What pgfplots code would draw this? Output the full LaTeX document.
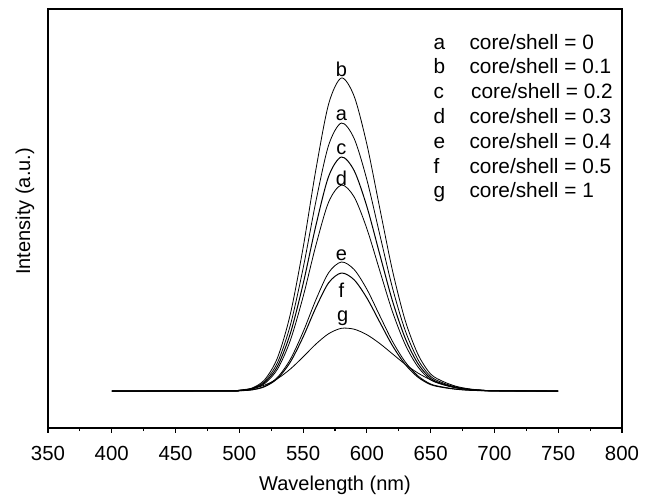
\documentclass[border=0pt]{standalone}
\usepackage{pgfplots}
\pgfplotsset{compat=1.18}
\usepackage{fontspec}
\setmainfont{Liberation Sans}
\begin{document}
\fontsize{10}{12.4}\selectfont
\begin{tikzpicture}
\begin{axis}[
  scale only axis,
  width=287pt, height=209.5pt,
  xmin=350, xmax=800, ymin=-37, ymax=382,
  xtick={350,400,...,800},
  minor x tick num=1,
  ytick=\empty,
  xtick pos=bottom,
  tick align=outside,
  major tick length=2.4pt,
  minor tick length=1.6pt,
  axis line style={line width=0.7pt},
  every tick/.style={black, line width=0.6pt},
  /pgf/number format/assume math mode=true,
  /pgf/number format/1000 sep={},
  tick label style={font=\fontsize{10.2}{12}\selectfont},
  xticklabel style={yshift=-3pt},
  xlabel={Wavelength (nm)},
  ylabel={Intensity (a.u.)},
  label style={font=\fontsize{10}{12}\selectfont},
  xlabel style={at={(axis description cs:0.5,-0.137)}, anchor=center},
  ylabel style={at={(axis description cs:-0.040,0.517)}, anchor=center},
  cycle list={{black, solid, line width=0.5pt}},
  every axis plot/.append style={smooth, no markers},
  clip=false,
]
% frame matching the reference image extent
\path (rel axis cs:-0.0836,-0.148) rectangle (rel axis cs:1.0418,1.0215);
% b
\addplot coordinates {(400,0) (490,0.1) (500,0.6) (510,3.0) (520,11.5) (530,33.5) (540,77.0) (550,143.3) (560,221.3) (570,287.0) (580,313) (590,294.8) (600,246.6) (610,183.4) (620,120.8) (630,70.7) (640,36.8) (650,17.0) (660,9.4) (670,4.7) (680,2.2) (690,0.9) (700,0.3) (750,0)};
% a
\addplot coordinates {(400,0) (490,0.1) (500,0.5) (510,2.6) (520,9.9) (530,28.7) (540,65.9) (550,122.7) (560,189.5) (570,245.8) (580,268) (590,252.5) (600,211.2) (610,157.0) (620,103.4) (630,60.6) (640,31.5) (650,14.6) (660,8.0) (670,4.0) (680,1.9) (690,0.8) (700,0.3) (750,0)};
% c
\addplot coordinates {(400,0) (490,0.1) (500,0.5) (510,2.3) (520,8.6) (530,25.0) (540,57.6) (550,107.1) (560,165.4) (570,214.6) (580,234) (590,220.4) (600,184.4) (610,137.1) (620,90.3) (630,52.9) (640,27.5) (650,12.7) (660,7.0) (670,3.5) (680,1.6) (690,0.7) (700,0.2) (750,0)};
% d
\addplot coordinates {(400,0) (490,0.1) (500,0.4) (510,2.0) (520,7.6) (530,22.0) (540,50.7) (550,94.3) (560,145.6) (570,188.9) (580,206) (590,194.1) (600,162.3) (610,120.7) (620,79.5) (630,46.6) (640,24.2) (650,11.2) (660,6.2) (670,3.1) (680,1.4) (690,0.6) (700,0.2) (750,0)};
% e
\addplot coordinates {(400,0) (490,0.1) (500,0.3) (510,1.3) (520,4.8) (530,13.8) (540,31.7) (550,59.1) (560,91.2) (570,118.3) (580,129) (590,121.5) (600,101.7) (610,75.6) (620,49.8) (630,29.2) (640,15.2) (650,7.0) (660,3.9) (670,1.9) (680,0.9) (690,0.4) (700,0.1) (750,0)};
% f
\addplot coordinates {(400,0) (490,0.1) (500,0.3) (510,1.2) (520,4.4) (530,12.6) (540,29.0) (550,54.0) (560,83.4) (570,108.2) (580,118) (590,111.2) (600,93.0) (610,69.1) (620,45.5) (630,26.7) (640,13.9) (650,6.4) (660,3.5) (670,1.8) (680,0.8) (690,0.4) (700,0.1) (750,0)};
% g
\addplot coordinates {(400,0) (490,0.3) (500,1.0) (510,2.6) (520,6.0) (530,12.4) (540,22.0) (550,34.1) (560,46.9) (570,57.3) (580,62.7) (590,61.8) (600,56.3) (610,47.6) (620,37.2) (630,26.8) (640,18.0) (650,11.2) (660,6.4) (670,3.4) (680,1.7) (690,0.8) (700,0.3) (710,0.1) (750,0)};
% curve labels
\node at (axis cs:580,322) {b};
\node at (axis cs:580,276) {a};
\node at (axis cs:580,242) {c};
\node at (axis cs:580,213) {d};
\node at (axis cs:580,136) {e};
\node at (axis cs:580,101) {f};
\node at (axis cs:581,73) {g};
% legend text
\node[anchor=base west, inner sep=0pt] at (rel axis cs:0.671,0.9045) {%
  \fontsize{10.4}{12.4}\selectfont
  \begin{tabular}[t]{@{}l@{}}
  \makebox[18pt][l]{a}core/shell = 0\\
  \makebox[18pt][l]{b}core/shell = 0.1\\
  \makebox[18.8pt][l]{c}core/shell = 0.2\\
  \makebox[18pt][l]{d}core/shell = 0.3\\
  \makebox[18pt][l]{e}core/shell = 0.4\\
  \makebox[18pt][l]{f}core/shell = 0.5\\
  \makebox[18pt][l]{g}core/shell = 1
  \end{tabular}};
\end{axis}
\end{tikzpicture}
\end{document}
